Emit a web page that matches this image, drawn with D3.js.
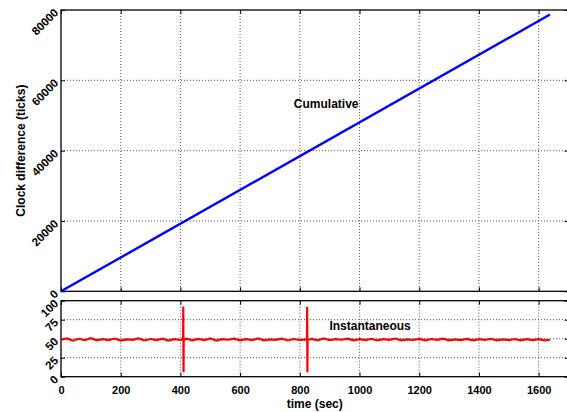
<!DOCTYPE html>
<html>
<head>
<meta charset="utf-8">
<script src="https://cdn.jsdelivr.net/npm/d3@7"></script>
<style>
  body { margin: 0; background: #fff; }
  svg { display: block; font-family: "Liberation Sans", Arial, sans-serif; font-weight: bold; }
  .grid line { stroke: #555; stroke-width: 1; stroke-dasharray: 1,2; }
  .axis path { display: none; }
  .axis line { stroke: #000; stroke-width: 1; }
  .axis text { fill: #000; font-size: 11px; font-weight: bold; font-family: "Liberation Sans", Arial, sans-serif; }
</style>
</head>
<body>
<div id="chart"></div>
<script>
// tick labels
var timeTicks = [0, 200, 400, 600, 800, 1000, 1200, 1400, 1600];
var cumTicks = [0, 20000, 40000, 60000, 80000];
var instTicks = [0, 25, 50, 75, 100];

// cumulative clock difference (ticks) against time (sec)
var cumTime = [0, 1638];
var cumValue = [0, 78700];

// instantaneous clock difference, [time, ticks]
var instSamples = [
    [0, 48.6], [20, 50.3], [40, 47.4], [60, 49.9], [80, 48.0], [100, 50.7],
    [120, 47.8], [140, 49.5], [160, 48.1], [180, 50.2], [200, 47.5], [220, 49.1],
    [240, 48.5], [260, 50.4], [280, 47.7], [300, 49.6], [320, 48.2], [340, 50.1],
    [360, 47.6], [380, 49.4], [400, 48.3], [409, 49.0], [409.6, 92.5], [410.4, 5.7],
    [411, 48.4], [420, 50.0], [440, 47.9], [460, 49.7], [480, 48.2], [500, 50.5],
    [520, 47.6], [540, 49.3], [560, 48.6], [580, 50.0], [600, 47.8], [620, 49.5],
    [640, 48.1], [660, 50.3], [680, 47.9], [700, 49.2], [720, 48.4], [740, 50.1],
    [760, 47.7], [780, 49.6], [800, 48.3], [824, 49.0], [824.6, 91.7], [825.4, 5.7],
    [826, 48.2], [840, 49.8], [860, 47.9], [880, 50.4], [900, 48.0], [920, 49.3],
    [940, 48.6], [960, 50.0], [980, 47.8], [1000, 49.5], [1020, 48.2], [1040, 49.9],
    [1060, 47.7], [1080, 49.4], [1100, 48.5], [1120, 50.2], [1140, 47.9], [1160, 49.1],
    [1180, 48.3], [1200, 49.8], [1220, 47.8], [1240, 49.6], [1260, 48.4], [1280, 50.0],
    [1300, 47.9], [1320, 49.2], [1340, 48.1], [1360, 49.7], [1380, 47.8], [1400, 49.4],
    [1420, 48.3], [1440, 49.9], [1460, 47.9], [1480, 49.1], [1500, 48.2], [1520, 49.6],
    [1540, 47.8], [1560, 49.3], [1580, 48.1], [1600, 49.5], [1620, 47.9], [1638, 48.6]
];

var svg = d3.select('#chart').append('svg')
    .attr('width', 567)
    .attr('height', 412);

var x = d3.scaleLinear().domain([0, 1700]).range([61, 568.5]);
var yTop = d3.scaleLinear().domain([0, 80000]).range([291.3, 10]);
var yBot = d3.scaleLinear().domain([0, 100]).range([376.7, 300.7]);

function panel(y, yTicks, isBottom) {
    var y0 = y.range()[0], y1 = y.range()[1];
    var g = svg.append('g');

    // dotted grid
    var grid = g.append('g').attr('class', 'grid');
    grid.selectAll('.gx')
        .data(timeTicks.filter(function(d) { return d > 0; }))
        .enter().append('line')
        .attr('x1', function(d) { return x(d); })
        .attr('x2', function(d) { return x(d); })
        .attr('y1', y1).attr('y2', y0);
    grid.selectAll('.gy')
        .data(yTicks.slice(1, -1))
        .enter().append('line')
        .attr('x1', x.range()[0]).attr('x2', x.range()[1])
        .attr('y1', function(d) { return y(d); })
        .attr('y2', function(d) { return y(d); });

    // inward ticks on all four sides
    var left = g.append('g').attr('class', 'axis')
        .attr('transform', 'translate(' + x.range()[0] + ',0)')
        .call(d3.axisLeft(y).tickValues(yTicks).tickSize(-4).tickFormat(d3.format('d')));
    left.selectAll('text')
        .attr('x', 0).attr('dy', null)
        .attr('text-anchor', 'end')
        .style('font-size', '11.5px')
        .attr('transform', 'translate(-2,3) rotate(-45)');

    g.append('g').attr('class', 'axis')
        .attr('transform', 'translate(' + x.range()[1] + ',0)')
        .call(d3.axisRight(y).tickValues(yTicks).tickSize(-4).tickFormat(''));

    g.append('g').attr('class', 'axis')
        .attr('transform', 'translate(0,' + y0 + ')')
        .call(d3.axisBottom(x).tickValues(timeTicks).tickSize(-4)
            .tickPadding(10).tickFormat(isBottom ? d3.format('d') : ''));

    g.append('g').attr('class', 'axis')
        .attr('transform', 'translate(0,' + y1 + ')')
        .call(d3.axisTop(x).tickValues(timeTicks).tickSize(-4).tickFormat(''));

    // frame
    g.append('rect')
        .attr('x', x.range()[0]).attr('y', y1)
        .attr('width', x.range()[1] - x.range()[0])
        .attr('height', y0 - y1)
        .attr('fill', 'none')
        .attr('stroke', '#000')
        .attr('stroke-width', 1.3);
    return g;
}

var topPanel = panel(yTop, cumTicks, false);
var botPanel = panel(yBot, instTicks, true);

topPanel.append('path')
    .datum(d3.zip(cumTime, cumValue))
    .attr('fill', 'none')
    .attr('stroke', '#0000ff')
    .attr('stroke-width', 2.4)
    .attr('d', d3.line()
        .x(function(d) { return x(d[0]); })
        .y(function(d) { return yTop(d[1]); }));

botPanel.append('path')
    .datum(instSamples)
    .attr('fill', 'none')
    .attr('stroke', '#ff0000')
    .attr('stroke-width', 2.2)
    .attr('d', d3.line()
        .x(function(d) { return x(d[0]); })
        .y(function(d) { return yBot(d[1]); }));

topPanel.append('text')
    .attr('x', x(780)).attr('y', yTop(52200))
    .attr('font-size', 12)
    .text('Cumulative');

botPanel.append('text')
    .attr('x', x(899)).attr('y', yBot(61.4))
    .attr('font-size', 12)
    .text('Instantaneous');

svg.append('text')
    .attr('transform', 'translate(25,' + ((yTop.range()[0] + yTop.range()[1]) / 2) + ') rotate(-90)')
    .attr('text-anchor', 'middle')
    .attr('font-size', 12)
    .text('Clock difference (ticks)');

svg.append('text')
    .attr('x', (x.range()[0] + x.range()[1]) / 2)
    .attr('y', 408)
    .attr('text-anchor', 'middle')
    .attr('font-size', 12)
    .text('time (sec)');
</script>
</body>
</html>
